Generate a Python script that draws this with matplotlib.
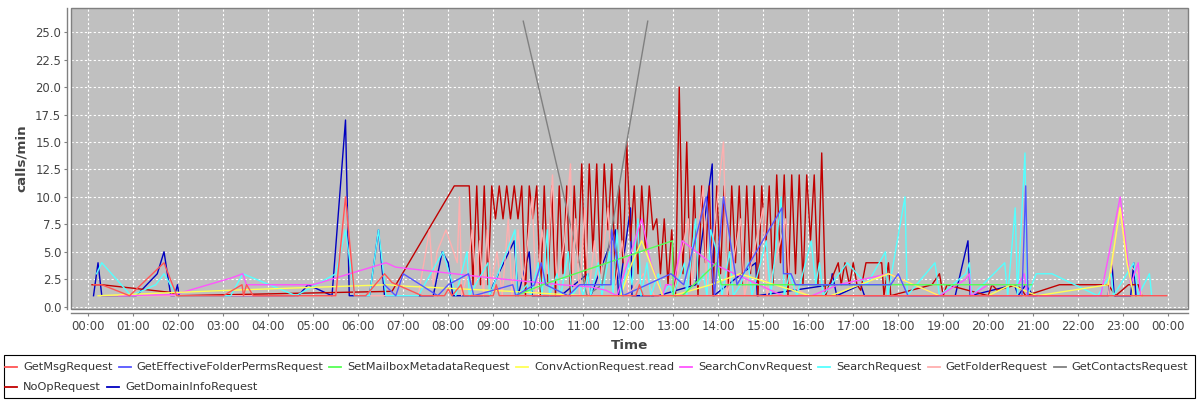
import matplotlib
matplotlib.use('Agg')

import numpy as np
import matplotlib.pyplot as plt
from matplotlib.lines import Line2D
from matplotlib.patches import Rectangle

W, H = 1200, 400

series_names = ['GetMsgRequest', 'GetEffectiveFolderPermsRequest', 'SetMailboxMetadataRequest',
                'ConvActionRequest.read', 'SearchConvRequest', 'SearchRequest', 'GetFolderRequest',
                'GetContactsRequest', 'NoOpRequest', 'GetDomainInfoRequest']
series_colors = ['#FF5555', '#5555FF', '#55FF55', '#FFFF55', '#FF55FF', '#55FFFF', '#FFAFAF',
                 '#808080', '#C00000', '#0000C0']

# (time, calls/min)
getmsg = [("00:07", 2), ("00:18", 2), ("00:55", 1), ("01:41", 4), ("01:58", 1), ("03:00", 1),
          ("03:25", 2), ("03:27", 1), ("03:31", 2), ("03:40", 1), ("05:30", 1), ("05:43", 10),
          ("05:55", 1), ("06:10", 1), ("06:35", 3), ("06:45", 2.2), ("07:25", 1), ("07:55", 1),
          ("08:00", 1.6), ("08:05", 1), ("08:17", 2), ("08:21", 1), ("09:00", 1), ("09:04", 2),
          ("09:08", 1), ("12:10", 1), ("12:15", 2), ("12:20", 1), ("23:58", 1)]

effperms = [("06:35", 2), ("06:50", 1), ("07:00", 3), ("07:46", 1), ("08:00", 2), ("08:27", 3),
            ("08:34", 1), ("09:26", 2), ("09:30", 1), ("09:55", 2), ("10:04", 4), ("10:10", 2),
            ("10:40", 1), ("10:55", 2), ("11:20", 2), ("11:37", 2), ("11:38", 7), ("11:53", 1),
            ("12:57", 3), ("13:14", 2), ("13:44", 10), ("13:55", 1), ("14:07", 10), ("14:25", 2),
            ("15:25", 9), ("15:27", 3), ("15:37", 3), ("15:43", 2), ("17:50", 2), ("18:00", 3),
            ("18:13", 1), ("20:45", 1), ("20:50", 11), ("20:53", 1), ("21:05", 1)]

setmeta = [("09:30", 1), ("10:06", 2), ("12:59", 6), ("13:00", 1), ("13:12", 1), ("13:58", 4),
           ("14:04", 2), ("20:58", 2)]

convread = [("00:13", 1), ("03:10", 1.5), ("06:40", 2), ("06:55", 1.9), ("09:22", 1.4), ("11:00", 1),
            ("11:50", 1), ("12:05", 4), ("12:18", 6), ("12:46", 1), ("13:00", 1), ("13:50", 2),
            ("14:29", 3), ("16:02", 1), ("16:30", 1), ("17:47", 3), ("18:55", 1), ("20:00", 1),
            ("20:30", 2), ("21:05", 1), ("22:40", 2), ("22:56", 9), ("23:05", 4), ("23:14", 1),
            ("23:25", 1)]

searchconv = [("00:41", 1), ("01:55", 1.1), ("03:10", 2.6), ("03:26", 3), ("03:31", 2), ("05:00", 2),
              ("06:37", 4), ("06:50", 3.6), ("09:00", 2.6), ("10:30", 2), ("11:10", 1.8), ("11:30", 1.5),
              ("11:45", 1), ("12:18", 8), ("12:30", 4), ("12:46", 1), ("12:50", 2), ("13:00", 2),
              ("13:12", 6), ("13:50", 4), ("15:26", 1), ("16:05", 1), ("16:40", 2), ("17:47", 3),
              ("18:55", 1), ("19:30", 2.5), ("19:35", 3), ("19:37", 1), ("20:00", 2), ("20:40", 2),
              ("20:48", 3), ("20:52", 1), ("22:30", 1), ("22:56", 10), ("23:10", 2), ("23:20", 4),
              ("23:23", 1)]

search = [("00:11", 3), ("00:18", 4), ("00:57", 1), ("01:30", 2), ("01:41", 3), ("01:58", 1),
          ("03:10", 1), ("03:26", 3), ("04:37", 1), ("05:30", 3), ("05:43", 7), ("05:55", 1),
          ("06:15", 1), ("06:27", 7), ("06:37", 1), ("07:20", 1), ("07:53", 5), ("08:06", 2),
          ("08:10", 1), ("08:25", 5), ("08:28", 1), ("08:53", 4), ("08:55", 1), ("09:29", 7),
          ("09:32", 1), ("09:45", 2), ("09:50", 1), ("10:00", 4), ("10:05", 1), ("10:12", 7),
          ("10:15", 1), ("10:25", 3), ("10:30", 1), ("10:40", 5), ("10:45", 1), ("10:55", 2),
          ("11:00", 1), ("11:06", 3), ("11:10", 1), ("11:20", 4), ("11:25", 1), ("11:35", 5),
          ("11:40", 1), ("11:45", 7), ("11:50", 1), ("12:00", 4), ("12:05", 2), ("12:13", 8),
          ("12:17", 1), ("12:25", 4), ("12:30", 1), ("12:40", 3), ("12:45", 1), ("12:55", 2),
          ("13:00", 1), ("13:15", 4), ("13:18", 1), ("13:30", 8), ("13:33", 2), ("13:40", 3),
          ("13:45", 1), ("13:50", 7), ("13:58", 5), ("14:05", 1), ("14:15", 5), ("14:20", 1),
          ("14:30", 2), ("14:40", 4), ("14:45", 1), ("15:04", 6), ("15:10", 1), ("15:24", 10),
          ("15:28", 1), ("15:35", 3), ("15:45", 1), ("16:04", 6), ("16:10", 2), ("16:15", 4),
          ("16:20", 1), ("16:52", 4), ("17:18", 2), ("17:43", 5), ("17:46", 1), ("18:09", 10),
          ("18:12", 1), ("18:49", 4), ("18:55", 1), ("19:30", 3), ("19:35", 4), ("19:38", 1),
          ("20:22", 4), ("20:26", 1), ("20:36", 9), ("20:39", 1), ("20:49", 14), ("20:52", 1),
          ("21:04", 3), ("21:25", 3), ("22:26", 1), ("22:44", 3), ("22:47", 1), ("23:14", 4),
          ("23:20", 1), ("23:35", 3), ("23:38", 1)]

getfolder = [("00:18", 1), ("05:30", 1), ("05:43", 10), ("05:55", 1), ("06:40", 1), ("07:20", 1),
             ("07:35", 7), ("07:40", 2), ("07:45", 5), ("07:57", 7), ("08:12", 4), ("08:15", 10),
             ("08:18", 1), ("08:25", 3), ("08:32", 7), ("08:37", 2), ("08:42", 6), ("08:47", 1),
             ("08:52", 7), ("08:57", 2), ("09:05", 5), ("09:12", 1), ("09:20", 8), ("09:25", 1),
             ("09:33", 7), ("09:40", 2), ("09:52", 10), ("09:57", 1), ("10:05", 7), ("10:12", 3),
             ("10:19", 12), ("10:25", 2), ("10:35", 6), ("10:43", 13), ("10:46", 2), ("10:50", 8),
             ("10:55", 1), ("11:02", 9), ("11:07", 1), ("11:15", 6), ("11:22", 2), ("11:33", 9),
             ("11:40", 1), ("11:52", 6), ("12:00", 1), ("12:20", 3), ("12:35", 1), ("13:00", 1),
             ("13:20", 8), ("13:25", 2), ("13:40", 11), ("13:45", 1), ("14:07", 15), ("14:12", 1),
             ("14:30", 8), ("14:35", 1), ("15:00", 9), ("15:05", 1), ("15:30", 8), ("15:35", 2),
             ("16:00", 1), ("22:40", 1), ("22:55", 9), ("23:05", 4), ("23:20", 3), ("23:25", 1)]

contacts = [("09:40", 26), ("11:05", 1), ("11:25", 2), ("12:26", 26)]

noop_head = [("00:05", 2), ("00:18", 2), ("01:50", 1.3), ("02:00", 1), ("06:45", 1.4), ("08:08", 11)]
# NoOp sampled every 5 minutes during the busy period
noop_busy_start = "08:28"
noop_busy = [11, 2, 11, 2, 11, 2, 11, 8, 11, 8, 11, 8, 11, 8, 11, 1, 11, 8, 11, 1,
             11, 2, 11, 1, 11, 3, 11, 1, 11, 4, 13, 2, 13, 5, 13, 3, 13, 7, 13, 2,
             11, 4, 15, 6, 11, 3, 11, 5, 11, 7, 8, 3, 8, 2, 7, 1, 20, 3, 15, 2,
             11, 1, 11, 4, 11, 1, 11, 3, 11, 1, 11, 4, 11, 2, 11, 3, 11, 1, 11, 5,
             11, 2, 12, 4, 12, 1, 12, 3, 12, 2, 12, 6, 12, 2, 14, 1, 2]
noop_tail = [("16:40", 4), ("16:44", 2), ("16:49", 4), ("16:55", 2), ("17:00", 4), ("17:05", 2),
             ("17:10", 1.5), ("17:17", 4), ("17:38", 4), ("17:41", 1), ("17:47", 4), ("17:50", 1),
             ("18:45", 2), ("18:55", 3), ("19:00", 1), ("19:05", 2), ("20:00", 1), ("20:05", 2),
             ("20:12", 1.5), ("20:38", 2), ("20:45", 1.5), ("20:50", 1), ("21:35", 2), ("22:40", 2),
             ("22:50", 1), ("23:07", 2), ("23:20", 2), ("23:25", 1)]

domaininfo = [("00:07", 1), ("00:13", 4), ("00:18", 1), ("01:04", 1), ("01:32", 3), ("01:41", 5),
              ("01:50", 1), ("01:55", 1), ("01:59", 2), ("02:01", 1), ("04:40", 1), ("04:53", 2),
              ("05:25", 1), ("05:43", 17), ("05:48", 1), ("06:15", 1), ("06:27", 7), ("06:35", 1),
              ("07:40", 1), ("07:52", 5), ("08:00", 4), ("08:06", 1), ("08:55", 1), ("09:00", 2),
              ("09:28", 6), ("09:33", 1), ("09:48", 5), ("09:52", 1), ("10:30", 1), ("11:06", 3),
              ("11:10", 1), ("11:43", 7), ("11:47", 1), ("12:03", 9), ("12:05", 1), ("12:40", 1),
              ("13:30", 2), ("13:52", 13), ("13:54", 1), ("14:50", 4), ("14:52", 1), ("16:30", 2),
              ("16:32", 3), ("16:38", 1), ("17:10", 2), ("17:15", 1), ("19:16", 1), ("19:33", 6),
              ("19:36", 1), ("20:35", 2), ("20:40", 1), ("20:50", 2), ("21:00", 1), ("22:40", 1),
              ("22:45", 4), ("22:48", 1), ("23:10", 1), ("23:14", 4), ("23:17", 1)]


def hrs(ts):
    h, m = ts.split(':')
    return int(h) + int(m) / 60.0


def unzip(pairs):
    return [hrs(t) for t, _ in pairs], [v for _, v in pairs]


busy_t = hrs(noop_busy_start) + np.arange(len(noop_busy)) * 5 / 60.0
nh_t, nh_v = unzip(noop_head)
nt_t, nt_v = unzip(noop_tail)
noop_t = list(nh_t) + list(busy_t) + list(nt_t)
noop_v = list(nh_v) + list(noop_busy) + list(nt_v)

all_series = [unzip(getmsg), unzip(effperms), unzip(setmeta), unzip(convread), unzip(searchconv),
              unzip(search), unzip(getfolder), unzip(contacts), (noop_t, noop_v), unzip(domaininfo)]

fig = plt.figure(figsize=(W / 100, H / 100), dpi=100)
fig.patch.set_facecolor('white')

left, right, top, bottom = 71, 1188, 8, 309
ax = fig.add_axes([left / W, 1 - bottom / H, (right - left) / W, (bottom - top) / H])
ax.set_facecolor('#C0C0C0')

# first series drawn on top, like the original renderer
n = len(all_series)
for i, (t, v) in enumerate(all_series):
    ax.plot(t, v, color=series_colors[i], lw=1.0, zorder=3 + (n - i))

ax.set_xlim(-0.384, 24.44)
ax.set_ylim(-0.21, 27.2)
ax.set_xticks(range(0, 25))
ax.set_xticklabels(['%02d:00' % (h % 24) for h in range(0, 25)])
ax.set_yticks(np.arange(0, 25.1, 2.5))
ax.set_yticklabels(['%.1f' % y for y in np.arange(0, 25.1, 2.5)])

ax.grid(True, color='white', lw=0.8, ls=(0, (2, 2)), zorder=1)
ax.set_axisbelow(True)

for s in ['top', 'right']:
    ax.spines[s].set_visible(False)
for s in ['left', 'bottom']:
    ax.spines[s].set_position(('outward', 3))
    ax.spines[s].set_color('#808080')
    ax.spines[s].set_linewidth(1.0)
ax.add_patch(Rectangle((0, 0), 1, 1, transform=ax.transAxes, fill=False,
                       edgecolor='#808080', lw=1.0, zorder=30, clip_on=False))

ax.tick_params(axis='both', length=2, width=0.8, color='#808080', labelcolor='#444444',
               labelsize=8.4, pad=2)
ax.tick_params(axis='x', pad=3)

ax.set_xlabel('Time', fontsize=9.7, fontweight='bold', color='#444444', labelpad=4)
ax.set_ylabel('calls/min', fontsize=9.7, fontweight='bold', color='#444444', labelpad=5)

# legend box drawn by hand, flowing left to right
fig.add_artist(Rectangle((4 / W, 1 - 398 / H), (1195 - 4) / W, (398 - 355) / H,
                         transform=fig.transFigure, fill=False, edgecolor='black', lw=0.8))
renderer = fig.canvas.get_renderer()
rows = [list(range(0, 8)), [8, 9]]
row_y = [367, 387]
for r, items in enumerate(rows):
    x = 5
    y = 1 - row_y[r] / H
    for i in items:
        fig.add_artist(Line2D([x / W, (x + 12) / W], [y, y], transform=fig.transFigure,
                              color=series_colors[i], lw=1.3))
        txt = fig.text((x + 18) / W, y, series_names[i], fontsize=8.2, color='#333333',
                       ha='left', va='center')
        bb = txt.get_window_extent(renderer)
        x = bb.x1 + 6

fig.savefig('out.png', dpi=100)
